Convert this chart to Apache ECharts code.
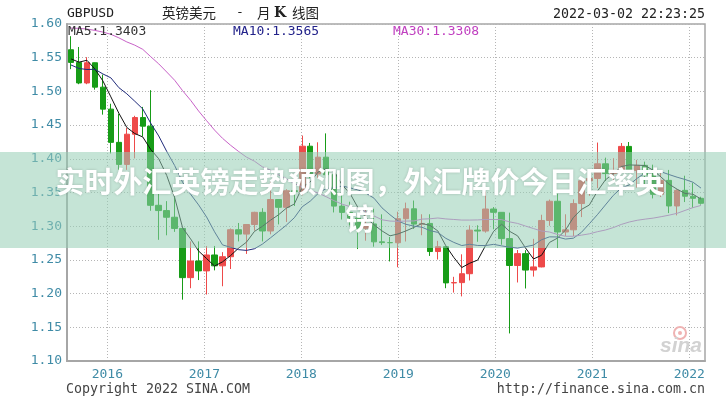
<!DOCTYPE html>
<html><head><meta charset="utf-8">
<script src="https://cdn.jsdelivr.net/npm/echarts@6.0.0/dist/echarts.min.js"></script>
<style>html,body{margin:0;padding:0;background:#fff}#c{width:726px;height:400px}</style>
</head><body><div id="c"></div>
<script>
const months = [
 '2015-08','2015-09','2015-10','2015-11','2015-12',
 '2016-01','2016-02','2016-03','2016-04','2016-05','2016-06','2016-07','2016-08','2016-09','2016-10','2016-11','2016-12',
 '2017-01','2017-02','2017-03','2017-04','2017-05','2017-06','2017-07','2017-08','2017-09','2017-10','2017-11','2017-12',
 '2018-01','2018-02','2018-03','2018-04','2018-05','2018-06','2018-07','2018-08','2018-09','2018-10','2018-11','2018-12',
 '2019-01','2019-02','2019-03','2019-04','2019-05','2019-06','2019-07','2019-08','2019-09','2019-10','2019-11','2019-12',
 '2020-01','2020-02','2020-03','2020-04','2020-05','2020-06','2020-07','2020-08','2020-09','2020-10','2020-11','2020-12',
 '2021-01','2021-02','2021-03','2021-04','2021-05','2021-06','2021-07','2021-08','2021-09','2021-10','2021-11','2021-12',
 '2022-01','2022-02','2022-03'
];
const openP = [
 1.5618,1.5430,1.5125,1.5425,1.5063,
 1.4737,1.4244,1.3917,1.4365,1.4612,1.4484,1.3310,1.3232,1.3133,1.2967,1.2237,1.2484,
 1.2337,1.2573,1.2412,1.2547,1.2948,1.2883,1.3025,1.3206,1.2929,1.3396,1.3280,1.3526,
 1.3513,1.4187,1.3774,1.4024,1.3764,1.3298,1.3205,1.3122,1.2969,1.3034,1.2768,1.2757,
 1.2755,1.3111,1.3258,1.3031,1.3041,1.2624,1.2696,1.2159,1.2163,1.2295,1.2942,1.2928,
 1.3255,1.3206,1.2816,1.2417,1.2593,1.2349,1.2396,1.3085,1.3370,1.2914,1.2946,1.3336,
 1.3673,1.3708,1.3926,1.3781,1.3827,1.4184,1.3828,1.3903,1.3758,1.3473,1.3680,1.3300,
 1.3532,1.3445,1.3414
];
const closeP = [
 1.5430,1.5125,1.5425,1.5063,1.4737,
 1.4244,1.3917,1.4365,1.4612,1.4484,1.3310,1.3232,1.3133,1.2967,1.2237,1.2484,1.2337,
 1.2573,1.2412,1.2547,1.2948,1.2883,1.3025,1.3206,1.2929,1.3396,1.3280,1.3526,1.3513,
 1.4187,1.3774,1.4024,1.3764,1.3298,1.3205,1.3122,1.2969,1.3034,1.2768,1.2757,1.2755,
 1.3111,1.3258,1.3031,1.3041,1.2624,1.2696,1.2159,1.2163,1.2295,1.2942,1.2928,1.3255,
 1.3206,1.2816,1.2417,1.2593,1.2349,1.2396,1.3085,1.3370,1.2914,1.2946,1.3336,1.3673,
 1.3708,1.3926,1.3781,1.3827,1.4184,1.3828,1.3903,1.3758,1.3473,1.3680,1.3300,1.3532,
 1.3445,1.3414,1.3340
];
const lowP = [
 1.5330,1.5107,1.5107,1.5026,1.4655,
 1.4079,1.3836,1.3836,1.4006,1.4331,1.3229,1.2798,1.2865,1.2916,1.1910,1.2080,1.2201,
 1.1986,1.2345,1.2109,1.2365,1.2774,1.2589,1.2933,1.2774,1.2879,1.3027,1.3063,1.3300,
 1.3458,1.3711,1.3713,1.3711,1.3204,1.3099,1.3010,1.2661,1.2785,1.2696,1.2723,1.2477,
 1.2391,1.2773,1.2960,1.2866,1.2559,1.2506,1.2080,1.2015,1.1959,1.2195,1.2769,1.2904,
 1.2954,1.2725,1.1409,1.2165,1.2076,1.2252,1.2390,1.3006,1.2676,1.2856,1.2854,1.3135,
 1.3451,1.3566,1.3671,1.3669,1.3801,1.3787,1.3572,1.3602,1.3412,1.3434,1.3194,1.3160,
 1.3358,1.3272,1.3320
];
const highP = [
 1.5819,1.5659,1.5508,1.5429,1.5249,
 1.4817,1.4668,1.4459,1.4638,1.4770,1.5018,1.3482,1.3372,1.3445,1.2975,1.2774,1.2775,
 1.2706,1.2707,1.2615,1.2967,1.3048,1.3030,1.3214,1.3267,1.3657,1.3338,1.3549,1.3551,
 1.4345,1.4235,1.4245,1.4377,1.3833,1.3474,1.3363,1.3143,1.3298,1.3258,1.3176,1.2840,
 1.3215,1.3350,1.3381,1.3177,1.3177,1.2783,1.2708,1.2249,1.2583,1.3013,1.3014,1.3514,
 1.3284,1.3210,1.3201,1.2647,1.2644,1.2813,1.3170,1.3395,1.3482,1.3177,1.3398,1.3705,
 1.3759,1.4241,1.4017,1.4009,1.4234,1.4249,1.3984,1.3958,1.3913,1.3834,1.3835,1.3548,
 1.3749,1.3644,1.3437
];
const ma5 = [
 1.5482,1.5434,1.5462,1.5332,1.5156,1.4919,1.4677,1.4465,1.4375,1.4324,
 1.4138,1.4001,1.3754,1.3425,1.2976,1.2811,1.2632,1.2520,1.2409,1.2471,
 1.2563,1.2673,1.2763,1.2922,1.2998,1.3088,1.3167,1.3267,1.3329,1.3580,
 1.3656,1.3805,1.3852,1.3809,1.3613,1.3483,1.3272,1.3126,1.3020,1.2930,
 1.2857,1.2885,1.2930,1.2982,1.3039,1.3013,1.2930,1.2710,1.2537,1.2387,
 1.2451,1.2497,1.2717,1.2925,1.3029,1.2924,1.2857,1.2676,1.2514,1.2568,
 1.2759,1.2823,1.2942,1.3130,1.3248,1.3315,1.3518,1.3685,1.3783,1.3885,
 1.3909,1.3905,1.3900,1.3829,1.3728,1.3623,1.3549,1.3486,1.3474,1.3403
];
const ma10 = [
 1.5392,1.5340,1.5325,1.5328,1.5259,1.5201,1.5056,1.4964,1.4854,1.4740,
 1.4528,1.4339,1.4110,1.3900,1.3650,1.3474,1.3316,1.3137,1.2917,1.2723,
 1.2687,1.2652,1.2641,1.2665,1.2734,1.2826,1.2920,1.3015,1.3125,1.3289,
 1.3372,1.3486,1.3560,1.3569,1.3597,1.3569,1.3538,1.3489,1.3415,1.3272,
 1.3170,1.3078,1.3028,1.3001,1.2985,1.2935,1.2908,1.2820,1.2760,1.2713,
 1.2732,1.2714,1.2713,1.2731,1.2708,1.2688,1.2677,1.2696,1.2720,1.2799,
 1.2842,1.2840,1.2809,1.2822,1.2908,1.3037,1.3170,1.3314,1.3457,1.3567,
 1.3612,1.3711,1.3792,1.3806,1.3807,1.3766,1.3727,1.3693,1.3652,1.3565
];
const ma30 = [
 1.5940,1.5935,1.5925,1.5905,1.5880,1.5847,1.5795,1.5734,1.5686,1.5624,
 1.5515,1.5409,1.5288,1.5165,1.5010,1.4868,1.4709,1.4566,1.4426,1.4304,
 1.4202,1.4110,1.4025,1.3965,1.3881,1.3833,1.3764,1.3705,1.3632,1.3584,
 1.3529,1.3492,1.3437,1.3378,1.3327,1.3290,1.3258,1.3214,1.3152,1.3095,
 1.3076,1.3072,1.3076,1.3078,1.3105,1.3110,1.3122,1.3108,1.3100,1.3091,
 1.3091,1.3093,1.3100,1.3100,1.3097,1.3064,1.3041,1.3002,1.2965,1.2928,
 1.2914,1.2877,1.2850,1.2851,1.2867,1.2887,1.2918,1.2943,1.2979,1.3026,
 1.3062,1.3088,1.3105,1.3120,1.3141,1.3164,1.3191,1.3234,1.3276,1.3308
];
const yearTicks = [2016, 2017, 2018, 2019, 2020, 2021, 2022];
const maLabels = ['MA5:1.3403', 'MA10:1.3565', 'MA30:1.3308'];
const titleText = '实时外汇英镑走势预测图，外汇牌价今日汇率英\n镑';

const mono = 'DejaVu Sans Mono';
const axisCol = '#3f8ba6';
const upCol = '#ee4a4a', downCol = '#179c17';
const kdata = months.map((m, i) => [openP[i], closeP[i], lowP[i], highP[i]]);

const chart = echarts.init(document.getElementById('c'), null, {renderer: 'canvas'});
chart.setOption({
  animation: false,
  backgroundColor: '#ffffff',
  grid: {left: 67, right: 21, top: 24, bottom: 39, show: true, borderColor: '#a6a6a6', borderWidth: 1.5, backgroundColor: 'transparent'},
  xAxis: [
    {type: 'category', data: months, boundaryGap: true,
     axisLine: {show: true, lineStyle: {color: '#a6a6a6', width: 2}},
     axisTick: {show: false}, axisLabel: {show: false}, splitLine: {show: false}},
    {type: 'value', position: 'bottom', min: 2015.5845, max: 2022.162,
     axisLine: {show: false}, axisTick: {show: false, customValues: yearTicks},
     axisLabel: {customValues: yearTicks, formatter: v => String(Math.round(v)), color: axisCol,
                 fontFamily: mono, fontSize: 13, margin: 7},
     splitLine: {show: true, lineStyle: {type: [1, 2], color: '#b5b5b5', width: 1}}}
  ],
  yAxis: {
    type: 'value', min: 1.10, max: 1.60, interval: 0.05,
    axisLine: {show: true, lineStyle: {color: '#a6a6a6', width: 2}},
    axisTick: {show: false},
    axisLabel: {formatter: v => v.toFixed(2), color: axisCol, fontFamily: mono, fontSize: 13, margin: 5, padding: [0, 0, 5, 0]},
    splitLine: {show: true, lineStyle: {type: [1, 2], color: '#b5b5b5', width: 1}}
  },
  series: [
    {type: 'candlestick', xAxisIndex: 0, data: kdata, barWidth: 6,
     itemStyle: {color: upCol, color0: downCol, borderColor: upCol, borderColor0: downCol, borderWidth: 1}},
    {type: 'line', name: 'MA5', xAxisIndex: 0, data: ma5, showSymbol: false, symbol: 'none',
     lineStyle: {color: '#111111', width: 1}, z: 5},
    {type: 'line', name: 'MA10', xAxisIndex: 0, data: ma10, showSymbol: false, symbol: 'none',
     lineStyle: {color: '#1f2a7a', width: 1}, z: 5},
    {type: 'line', name: 'MA30', xAxisIndex: 0, data: ma30, showSymbol: false, symbol: 'none',
     lineStyle: {color: '#c862c8', width: 1}, z: 5}
  ],
  graphic: [
    {type: 'text', left: 67, top: 7, style: {text: 'GBPUSD', font: '13px "DejaVu Sans Mono"', fill: '#222'}},
    {type: 'text', left: 162, top: 6, style: {text: '英镑美元', font: '13.5px "Noto Sans CJK SC"', fill: '#222'}},
    {type: 'text', left: 236, top: 6, style: {text: '-', font: '13px "DejaVu Sans Mono"', fill: '#222'}},
    {type: 'text', left: 257, top: 6, style: {text: '月', font: '13.5px "Noto Sans CJK SC"', fill: '#222'}},
    {type: 'text', left: 274, top: 6, style: {text: 'K', font: 'bold 14px "DejaVu Serif"', fill: '#222'}},
    {type: 'text', left: 292, top: 6, style: {text: '线图', font: '13.5px "Noto Sans CJK SC"', fill: '#222'}},
    {type: 'text', right: 21, top: 8, style: {text: '2022-03-02 22:23:25', font: '13.3px "DejaVu Sans Mono"', fill: '#222'}},
    {type: 'text', left: 68, top: 25, z: 20, style: {text: maLabels[0], font: '13px "DejaVu Sans Mono"', fill: '#333'}},
    {type: 'text', left: 233, top: 25, z: 20, style: {text: maLabels[1], font: '13px "DejaVu Sans Mono"', fill: '#22228a'}},
    {type: 'text', left: 393, top: 25, z: 20, style: {text: maLabels[2], font: '13px "DejaVu Sans Mono"', fill: '#c040c0'}},
    {type: 'text', left: 66, top: 383, style: {text: 'Copyright 2022 SINA.COM', font: '13.3px "DejaVu Sans Mono"', fill: '#444'}},
    {type: 'text', right: 21, top: 383, style: {text: 'http://finance.sina.com.cn', font: '13.3px "DejaVu Sans Mono"', fill: '#444'}},
    {type: 'circle', z: 3, shape: {cx: 680, cy: 333, r: 6}, style: {fill: 'none', stroke: '#efb3b3', lineWidth: 2}},
    {type: 'circle', z: 3, shape: {cx: 680, cy: 333, r: 2}, style: {fill: '#efb3b3'}},
    {type: 'text', z: 3, left: 660, top: 336, style: {text: 'sina', font: 'italic bold 21px "Liberation Sans"', fill: '#d2d2d2'}},
    {type: 'rect', z: 100, shape: {x: 0, y: 152, width: 726, height: 96}, style: {fill: 'rgba(150,205,180,0.55)'}},
    {type: 'text', z: 101, x: 360, y: 200, style: {text: titleText, font: 'bold 29px "Noto Sans CJK SC"', fill: '#ffffff',
      textAlign: 'center', textVerticalAlign: 'middle', lineHeight: 37,
      textShadowColor: 'rgba(0,0,0,0.18)', textShadowBlur: 3}}
  ]
});
</script>
</body></html>
